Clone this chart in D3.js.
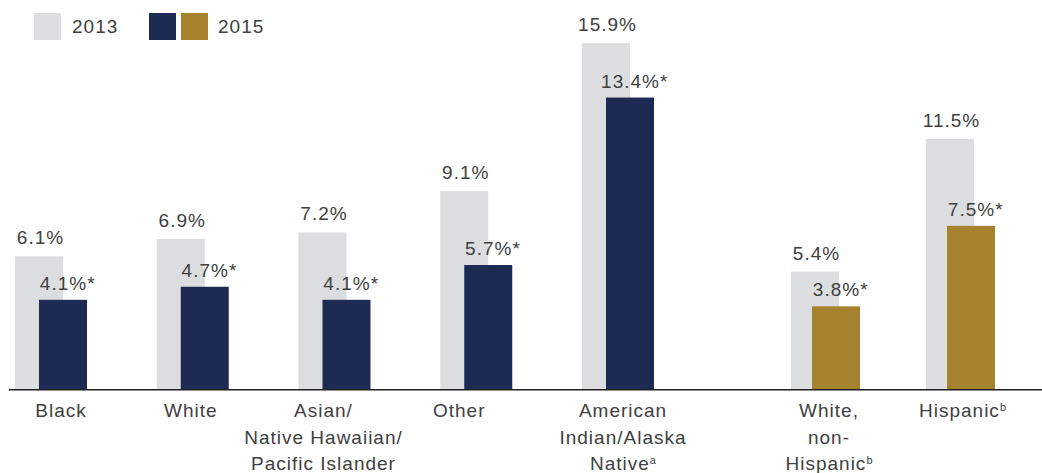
<!DOCTYPE html>
<html>
<head>
<meta charset="utf-8">
<script src="https://cdn.jsdelivr.net/npm/d3@7"></script>
<style>
  html, body { margin: 0; padding: 0; background: #fff; }
  svg { display: block; font-family: "Liberation Sans", Arial, Helvetica, sans-serif; }
</style>
</head>
<body>
<svg id="chart" width="1042" height="473"></svg>
<script>
// ---- data ----
const groupRace = ["Black", "White", "Asian/Native Hawaiian/Pacific Islander", "Other", "American Indian/Alaska Native"];
const groupEthnicity = ["White, non-Hispanic", "Hispanic"];
const categoryLines = [
  ["Black"], ["White"], ["Asian/", "Native Hawaiian/", "Pacific Islander"], ["Other"],
  ["American", "Indian/Alaska", "Native"], ["White,", "non-", "Hispanic"], ["Hispanic"]
];
const categoryNotes = ["", "", "", "", "a", "b", "b"];
const values2013 = [6.1, 6.9, 7.2, 9.1, 15.9, 5.4, 11.5];
const values2015 = [4.1, 4.7, 4.1, 5.7, 13.4, 3.8, 7.5];
const significant2015 = [true, true, true, true, true, true, true];
const legendLabels = ["2013", "2015"];

// ---- layout / style ----
const W = 1042, H = 473;
const baseY = 389;
const barW = 48;
const fs = 19, ls = 1;
const labelDx = [10, -2, -11, -17, 5, 3.5, 2];
const colGray = "#dcdddf", colNavy = "#1c2a54", colGold = "#a6822f", colText = "#404040";

const svg = d3.select("#chart");
const y = d3.scaleLinear().domain([0, 18]).range([baseY, baseY - 18 * 21.75]);

const xRace = d3.scaleBand().domain(groupRace).range([15, 654]).paddingInner(1 - 72 / 141.75).paddingOuter(0);
const xEth = d3.scaleBand().domain(groupEthnicity).range([791, 995]).paddingInner(1 - 69 / 135).paddingOuter(0);

const cats = groupRace.concat(groupEthnicity);
const rows = cats.map((c, i) => {
  const isRace = i < groupRace.length;
  const sc = isRace ? xRace : xEth;
  return {
    cat: c, i,
    x0: sc(c), bw: sc.bandwidth(),
    v13: values2013[i], v15: values2015[i], sig: significant2015[i],
    color: isRace ? colNavy : colGold,
    lines: categoryLines[i], note: categoryNotes[i]
  };
});

// 2013 bars
svg.append("g").selectAll("rect").data(rows).join("rect")
  .attr("x", d => d.x0).attr("width", barW)
  .attr("y", d => y(d.v13)).attr("height", d => baseY - y(d.v13))
  .attr("fill", colGray);

// 2015 bars
svg.append("g").selectAll("rect").data(rows).join("rect")
  .attr("x", d => d.x0 + d.bw - barW).attr("width", barW)
  .attr("y", d => y(d.v15)).attr("height", d => baseY - y(d.v15))
  .attr("fill", d => d.color);

// value labels
const fmt = v => v.toFixed(1) + "%";
function valueLabel(cx, yy, txt, star) {
  const t = svg.append("text").attr("x", cx).attr("y", yy)
    .attr("text-anchor", "start").attr("font-size", fs).attr("letter-spacing", ls)
    .attr("fill", colText).text(txt);
  const w = t.node().getComputedTextLength() - ls;
  t.attr("x", cx - w / 2);
  if (star) {
    svg.append("text").attr("x", cx + w / 2 + 1).attr("y", yy)
      .attr("font-size", fs).attr("fill", colText).text("*");
  }
}
rows.forEach(d => {
  valueLabel(d.x0 + barW / 2 + 1, y(d.v13) - 12, fmt(d.v13), false);
  valueLabel(d.x0 + d.bw - barW / 2, y(d.v15) - 10, fmt(d.v15), d.sig);
});

// axis line
svg.append("line").attr("x1", 9).attr("x2", W).attr("y1", baseY + 0.8).attr("y2", baseY + 0.8)
  .attr("stroke", "#231f20").attr("stroke-width", 1.4);

// category labels
rows.forEach(d => {
  const cx = d.x0 + d.bw / 2 + labelDx[d.i];
  const t = svg.append("text").attr("text-anchor", "middle").attr("font-size", fs)
    .attr("letter-spacing", ls).attr("fill", colText);
  d.lines.forEach((ln, k) => {
    const ts = t.append("tspan").attr("x", cx).attr("y", 417 + k * 26.5).text(ln);
    if (k === d.lines.length - 1 && d.note) {
      ts.append("tspan").attr("font-size", 11).attr("dy", -6).attr("letter-spacing", 0).text(d.note);
    }
  });
});

// legend
const lg = svg.append("g").attr("font-size", fs).attr("letter-spacing", ls).attr("fill", colText);
lg.append("rect").attr("x", 34).attr("y", 13).attr("width", 27).attr("height", 27).attr("fill", colGray);
lg.append("text").attr("x", 72).attr("y", 33).text(legendLabels[0]);
lg.append("rect").attr("x", 149).attr("y", 13).attr("width", 27).attr("height", 27).attr("fill", colNavy);
lg.append("rect").attr("x", 181).attr("y", 13).attr("width", 27).attr("height", 27).attr("fill", colGold);
lg.append("text").attr("x", 218).attr("y", 33).text(legendLabels[1]);
</script>
</body>
</html>
